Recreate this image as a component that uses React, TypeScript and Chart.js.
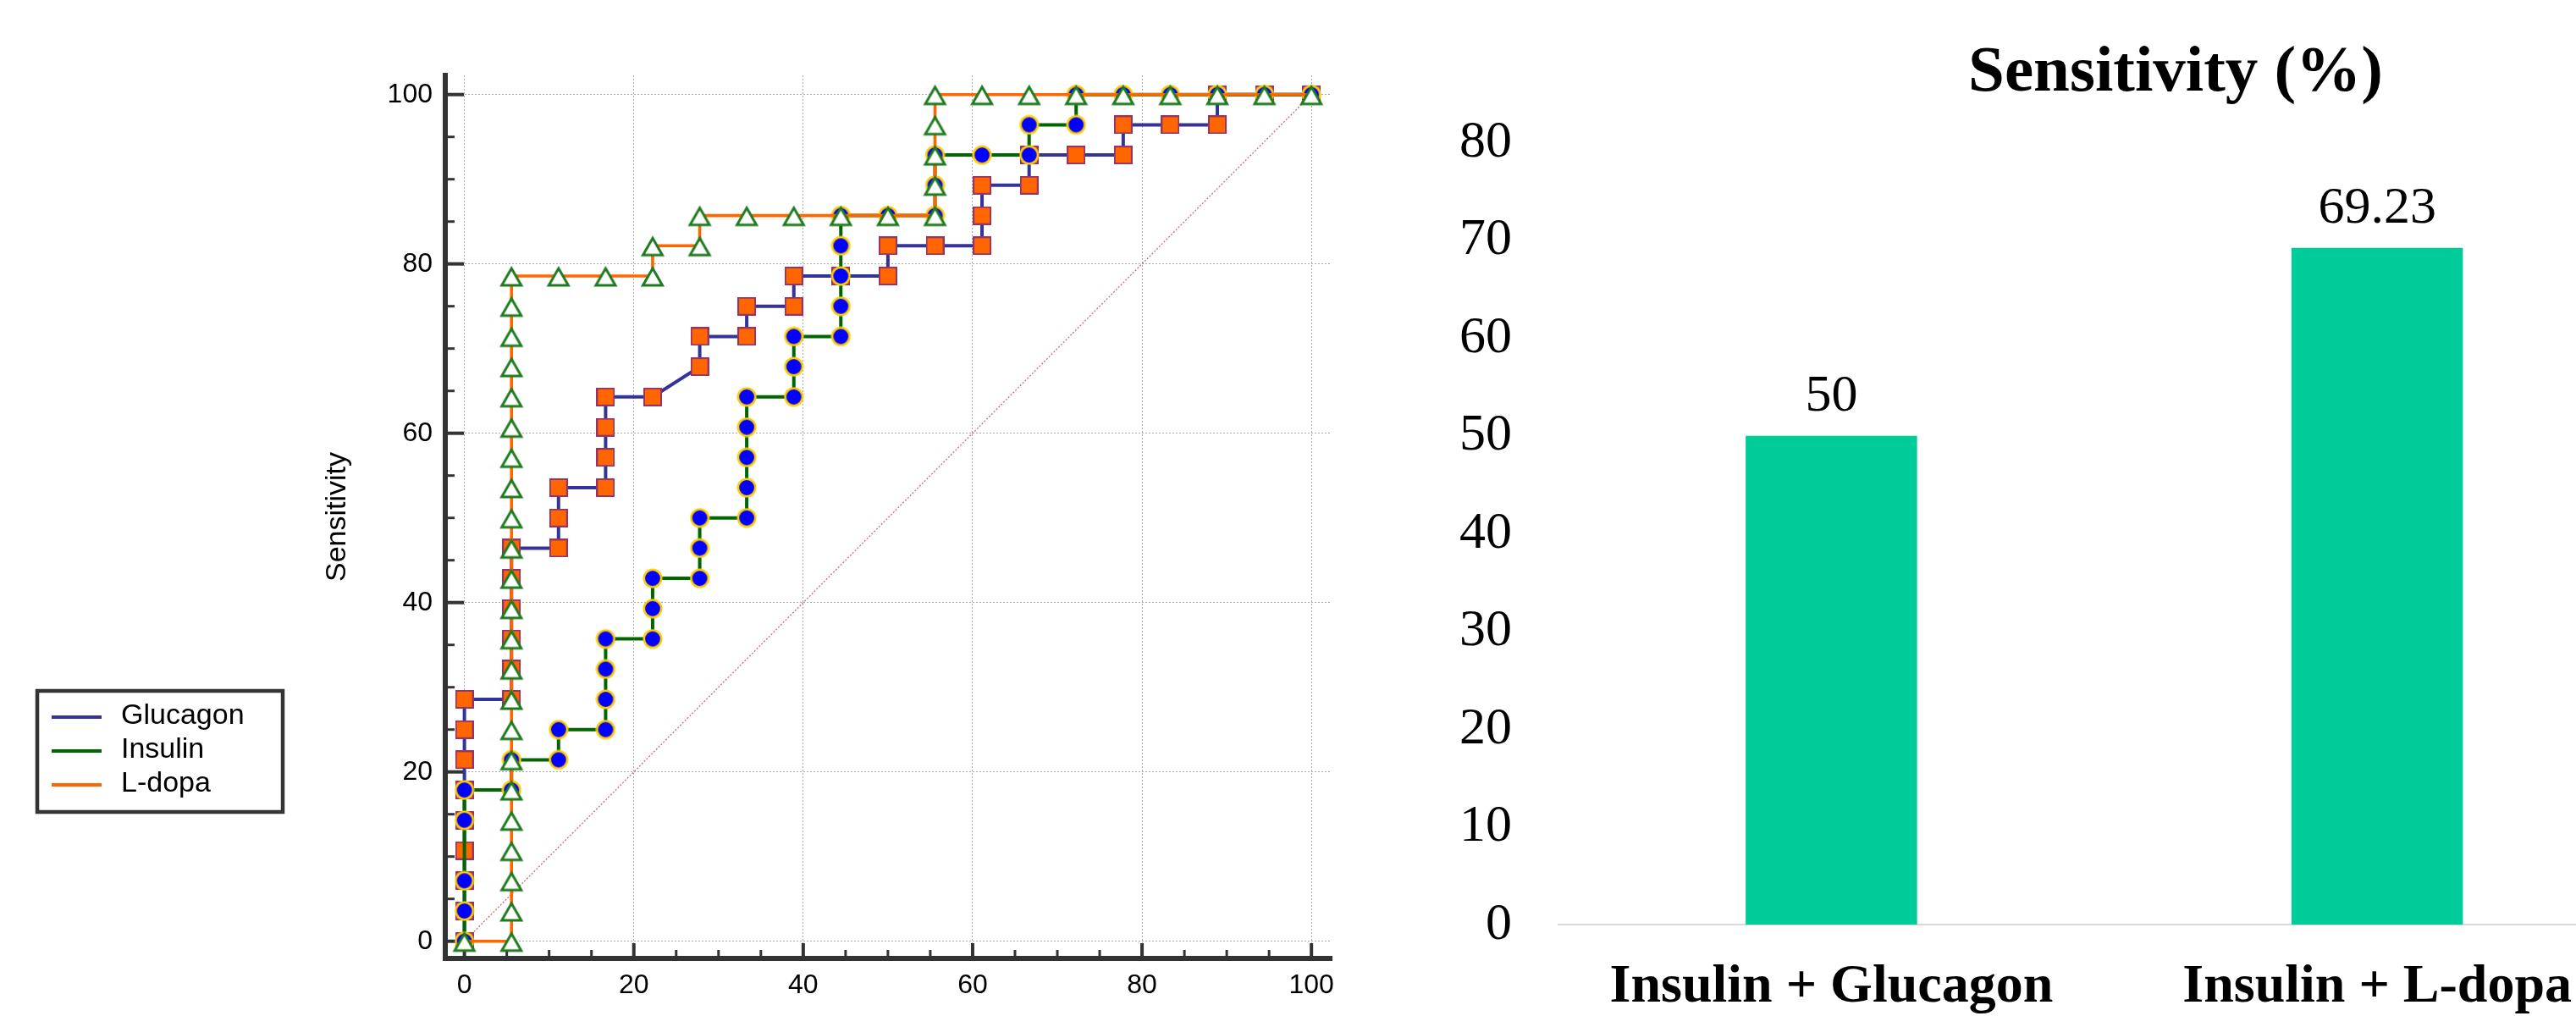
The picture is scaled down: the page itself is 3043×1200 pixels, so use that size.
import { useEffect, useRef } from 'react';
import { Chart, registerables } from 'chart.js';

Chart.register(...registerables);

// ---------- ROC curve data (1 - specificity %, sensitivity %) ----------
const ROC_SERIES = ['Glucagon', 'Insulin', 'L-dopa'];

const GLUCAGON_FPR = [
  0, 0, 0, 0, 0, 0, 0, 0, 0,
  5.56, 5.56, 5.56, 5.56, 5.56, 5.56,
  11.11, 11.11, 11.11,
  16.67, 16.67, 16.67, 16.67,
  22.22,
  27.78, 27.78,
  33.33, 33.33,
  38.89, 38.89,
  44.44,
  50, 50,
  55.56,
  61.11, 61.11, 61.11,
  66.67, 66.67,
  72.22,
  77.78, 77.78,
  83.33,
  88.89, 88.89,
  94.44,
  100,
];
const GLUCAGON_SENS = [
  0, 3.57, 7.14, 10.71, 14.29, 17.86, 21.43, 25, 28.57,
  28.57, 32.14, 35.71, 39.29, 42.86, 46.43,
  46.43, 50, 53.57,
  53.57, 57.14, 60.71, 64.29,
  64.29,
  67.86, 71.43,
  71.43, 75,
  75, 78.57,
  78.57,
  78.57, 82.14,
  82.14,
  82.14, 85.71, 89.29,
  89.29, 92.86,
  92.86,
  92.86, 96.43,
  96.43,
  96.43, 100,
  100,
  100,
];

const INSULIN_FPR = [
  0, 0, 0, 0, 0,
  5.56, 5.56,
  11.11, 11.11,
  16.67, 16.67, 16.67, 16.67,
  22.22, 22.22, 22.22,
  27.78, 27.78, 27.78,
  33.33, 33.33, 33.33, 33.33, 33.33,
  38.89, 38.89, 38.89,
  44.44, 44.44, 44.44, 44.44, 44.44,
  50,
  55.56, 55.56, 55.56,
  61.11,
  66.67, 66.67,
  72.22, 72.22,
  77.78, 83.33, 88.89, 94.44, 100,
];
const INSULIN_SENS = [
  0, 3.57, 7.14, 14.29, 17.86,
  17.86, 21.43,
  21.43, 25,
  25, 28.57, 32.14, 35.71,
  35.71, 39.29, 42.86,
  42.86, 46.43, 50,
  50, 53.57, 57.14, 60.71, 64.29,
  64.29, 67.86, 71.43,
  71.43, 75, 78.57, 82.14, 85.71,
  85.71,
  85.71, 89.29, 92.86,
  92.86,
  92.86, 96.43,
  96.43, 100,
  100, 100, 100, 100, 100,
];

const LDOPA_FPR = [
  0,
  5.56, 5.56, 5.56, 5.56, 5.56, 5.56, 5.56, 5.56, 5.56, 5.56, 5.56, 5.56,
  5.56, 5.56, 5.56, 5.56, 5.56, 5.56, 5.56, 5.56, 5.56, 5.56, 5.56,
  11.11, 16.67,
  22.22, 22.22,
  27.78, 27.78,
  33.33, 38.89, 44.44, 50,
  55.56, 55.56, 55.56, 55.56, 55.56,
  61.11, 66.67, 72.22, 77.78, 83.33, 88.89, 94.44, 100,
];
const LDOPA_SENS = [
  0,
  0, 3.57, 7.14, 10.71, 14.29, 17.86, 21.43, 25, 28.57, 32.14, 35.71, 39.29,
  42.86, 46.43, 50, 53.57, 57.14, 60.71, 64.29, 67.86, 71.43, 75, 78.57,
  78.57, 78.57,
  78.57, 82.14,
  82.14, 85.71,
  85.71, 85.71, 85.71, 85.71,
  85.71, 89.29, 92.86, 96.43, 100,
  100, 100, 100, 100, 100, 100, 100, 100,
];

const REFERENCE_FPR = [0, 100];
const REFERENCE_SENS = [0, 100];

const ROC_MAJOR_TICKS = [0, 20, 40, 60, 80, 100];
const ROC_MINOR_TICKS = [5, 10, 15, 25, 30, 35, 45, 50, 55, 65, 70, 75, 85, 90, 95];
const ROC_Y_TITLE = 'Sensitivity';

// ---------- Bar chart data ----------
const BAR_CATEGORIES = ['Insulin + Glucagon', 'Insulin + L-dopa'];
const BAR_VALUES = [50, 69.23];
const BAR_TITLE = 'Sensitivity (%)';

const SANS = '"Liberation Sans", Arial, sans-serif';
const SERIF = '"Liberation Serif", "Times New Roman", serif';

const toPoints = (xs: number[], ys: number[]) => xs.map((x, i) => ({ x, y: ys[i] }));

function makeSquare() {
  const c = document.createElement('canvas');
  c.width = 22; c.height = 22;
  const g = c.getContext('2d')!;
  g.fillStyle = '#FF6600';
  g.fillRect(0, 0, 22, 22);
  g.strokeStyle = '#993366';
  g.lineWidth = 2;
  g.strokeRect(1, 1, 20, 20);
  return c;
}
function makeCircle() {
  const c = document.createElement('canvas');
  c.width = 24; c.height = 24;
  const g = c.getContext('2d')!;
  g.beginPath();
  g.arc(12, 12, 10.2, 0, Math.PI * 2);
  g.fillStyle = '#0000FF';
  g.fill();
  g.strokeStyle = '#FFCC00';
  g.lineWidth = 2.6;
  g.stroke();
  return c;
}
function makeTriangle() {
  const c = document.createElement('canvas');
  c.width = 32; c.height = 32;
  const g = c.getContext('2d')!;
  const s = 23;
  const h = (s * Math.sqrt(3)) / 2;
  g.beginPath();
  g.moveTo(16, 16 - h / 2 + 1);
  g.lineTo(16 + s / 2, 16 + h / 2 + 1);
  g.lineTo(16 - s / 2, 16 + h / 2 + 1);
  g.closePath();
  g.fillStyle = '#FFFFFF';
  g.fill();
  g.strokeStyle = '#1E7A1E';
  g.lineWidth = 3;
  g.lineJoin = 'miter';
  g.stroke();
  return c;
}

const rocDecorPlugin = {
  id: 'rocDecor',
  beforeDatasetsDraw(chart: any) {
    const { ctx, chartArea, scales } = chart;
    ctx.save();
    ctx.strokeStyle = '#333333';
    const drawX = (v: number, len: number, w: number) => {
      const px = scales.x.getPixelForValue(v);
      ctx.lineWidth = w;
      ctx.beginPath();
      ctx.moveTo(px, chartArea.bottom);
      ctx.lineTo(px, chartArea.bottom - len);
      ctx.stroke();
    };
    const drawY = (v: number, len: number, w: number) => {
      const py = scales.y.getPixelForValue(v);
      ctx.lineWidth = w;
      ctx.beginPath();
      ctx.moveTo(chartArea.left, py);
      ctx.lineTo(chartArea.left + len, py);
      ctx.stroke();
    };
    ROC_MAJOR_TICKS.forEach((v) => { drawX(v, 18, 4); drawY(v, 22, 4); });
    ROC_MINOR_TICKS.forEach((v) => { drawX(v, 10, 3); drawY(v, 11, 3); });
    ctx.restore();
  },
  afterDraw(chart: any) {
    const { ctx } = chart;
    ctx.save();
    ctx.lineWidth = 4.5;
    ctx.strokeStyle = '#333333';
    ctx.strokeRect(44, 816, 290, 143);
    const rows = [847, 887, 927];
    ROC_SERIES.forEach((name, i) => {
      const ds = chart.data.datasets[i];
      ctx.strokeStyle = ds.borderColor;
      ctx.lineWidth = 4;
      ctx.beginPath();
      ctx.moveTo(61, rows[i]);
      ctx.lineTo(120, rows[i]);
      ctx.stroke();
      ctx.fillStyle = '#000000';
      ctx.font = `34px ${SANS}`;
      ctx.textAlign = 'left';
      ctx.textBaseline = 'middle';
      ctx.fillText(name, 143, rows[i] - 1);
    });
    ctx.restore();
  },
};

const barDecorPlugin = {
  id: 'barDecor',
  afterDatasetsDraw(chart: any) {
    const { ctx } = chart;
    const meta = chart.getDatasetMeta(0);
    ctx.save();
    ctx.fillStyle = '#000000';
    ctx.font = `62px ${SERIF}`;
    ctx.textAlign = 'center';
    ctx.textBaseline = 'middle';
    meta.data.forEach((bar: any, i: number) => {
      ctx.fillText(String(BAR_VALUES[i]), bar.x, bar.y - 46);
    });
    ctx.font = `bold 77px ${SERIF}`;
    ctx.textBaseline = 'alphabetic';
    ctx.fillText(BAR_TITLE, 970, 107);
    ctx.restore();
  },
};

export default function App() {
  const rocRef = useRef<HTMLCanvasElement>(null);
  const barRef = useRef<HTMLCanvasElement>(null);

  useEffect(() => {
    const square = makeSquare();
    const circle = makeCircle();
    const triangle = makeTriangle();

    const roc = new Chart(rocRef.current!, {
      type: 'line',
      data: {
        datasets: [
          {
            label: ROC_SERIES[0],
            data: toPoints(GLUCAGON_FPR, GLUCAGON_SENS),
            borderColor: '#333399',
            borderWidth: 4,
            pointStyle: square as any,
            pointRadius: 11,
            pointHoverRadius: 11,
            order: 3,
          },
          {
            label: ROC_SERIES[1],
            data: toPoints(INSULIN_FPR, INSULIN_SENS),
            borderColor: '#006600',
            borderWidth: 4,
            pointStyle: circle as any,
            pointRadius: 11,
            pointHoverRadius: 11,
            order: 2,
          },
          {
            label: ROC_SERIES[2],
            data: toPoints(LDOPA_FPR, LDOPA_SENS),
            borderColor: '#FF6600',
            borderWidth: 3.6,
            pointStyle: triangle as any,
            pointRadius: 13,
            pointHoverRadius: 13,
            order: 1,
          },
          {
            label: 'Reference',
            data: toPoints(REFERENCE_FPR, REFERENCE_SENS),
            borderColor: '#bf6f78',
            borderWidth: 1.3,
            borderDash: [2, 2],
            pointRadius: 0,
            order: 4,
          },
        ],
      },
      options: {
        responsive: false,
        animation: false,
        devicePixelRatio: 1,
        events: [],
        layout: { padding: { left: 0, right: 27, top: 89, bottom: 0 } },
        plugins: { legend: { display: false }, tooltip: { enabled: false } },
        scales: {
          x: {
            type: 'linear',
            min: -2.26,
            max: 102.38,
            afterBuildTicks: (s: any) => { s.ticks = ROC_MAJOR_TICKS.map((v) => ({ value: v })); },
            afterFit: (s: any) => { s.height = 68; },
            grid: { color: '#a6a6a6', lineWidth: 1, drawTicks: false },
            border: { display: true, color: '#333333', width: 6, dash: [2, 2] },
            ticks: { color: '#000000', font: { family: SANS, size: 32 }, padding: 13, maxRotation: 0, autoSkip: false },
          },
          y: {
            type: 'linear',
            min: -2.03,
            max: 102.27,
            afterBuildTicks: (s: any) => { s.ticks = ROC_MAJOR_TICKS.map((v) => ({ value: v })); },
            afterFit: (s: any) => { s.width = 526; },
            grid: { color: '#a6a6a6', lineWidth: 1, drawTicks: false },
            border: { display: true, color: '#333333', width: 6, dash: [2, 2] },
            ticks: { color: '#000000', font: { family: SANS, size: 32 }, padding: 15, autoSkip: false },
            title: {
              display: true,
              text: ROC_Y_TITLE,
              color: '#000000',
              font: { family: SANS, size: 34 },
              padding: { top: 378, bottom: 0 },
            },
          },
        },
      } as any,
      plugins: [rocDecorPlugin],
    });

    const bar = new Chart(barRef.current!, {
      type: 'bar',
      data: {
        labels: BAR_CATEGORIES,
        datasets: [
          {
            label: BAR_TITLE,
            data: BAR_VALUES,
            backgroundColor: '#00CC99',
            categoryPercentage: 1,
            barPercentage: 0.314,
          },
        ],
      },
      options: {
        responsive: false,
        animation: false,
        devicePixelRatio: 1,
        events: [],
        layout: { padding: { left: 0, right: 69.5, top: 168.4, bottom: 0 } },
        plugins: { legend: { display: false }, tooltip: { enabled: false }, title: { display: false } },
        scales: {
          x: {
            grid: { display: false, drawTicks: false },
            border: { display: true, color: '#d9d9d9', width: 2 },
            ticks: {
              color: '#000000',
              font: { family: SERIF, size: 64, weight: 'bold' },
              padding: 36,
              maxRotation: 0,
              minRotation: 0,
              autoSkip: false,
            },
            afterFit: (s: any) => { s.height = 107.7; },
          },
          y: {
            min: 0,
            max: 80,
            ticks: { stepSize: 10, color: '#000000', font: { family: SERIF, size: 62 }, padding: 55 },
            grid: { display: false, drawTicks: false },
            border: { display: false },
            afterFit: (s: any) => { s.width = 241; },
          },
        },
      } as any,
      plugins: [barDecorPlugin],
    });

    return () => {
      roc.destroy();
      bar.destroy();
    };
  }, []);

  return (
    <div>
      <canvas
        ref={rocRef}
        width={1600}
        height={1200}
        style={{ position: 'absolute', left: 0, top: 0, width: 1600, height: 1200 }}
      />
      <div style={{ position: 'absolute', left: 1600, top: 0, width: 1443, height: 1200, overflow: 'hidden' }}>
        <canvas
          ref={barRef}
          width={1600}
          height={1200}
          style={{ position: 'absolute', left: 0, top: 0, width: 1600, height: 1200 }}
        />
      </div>
    </div>
  );
}
